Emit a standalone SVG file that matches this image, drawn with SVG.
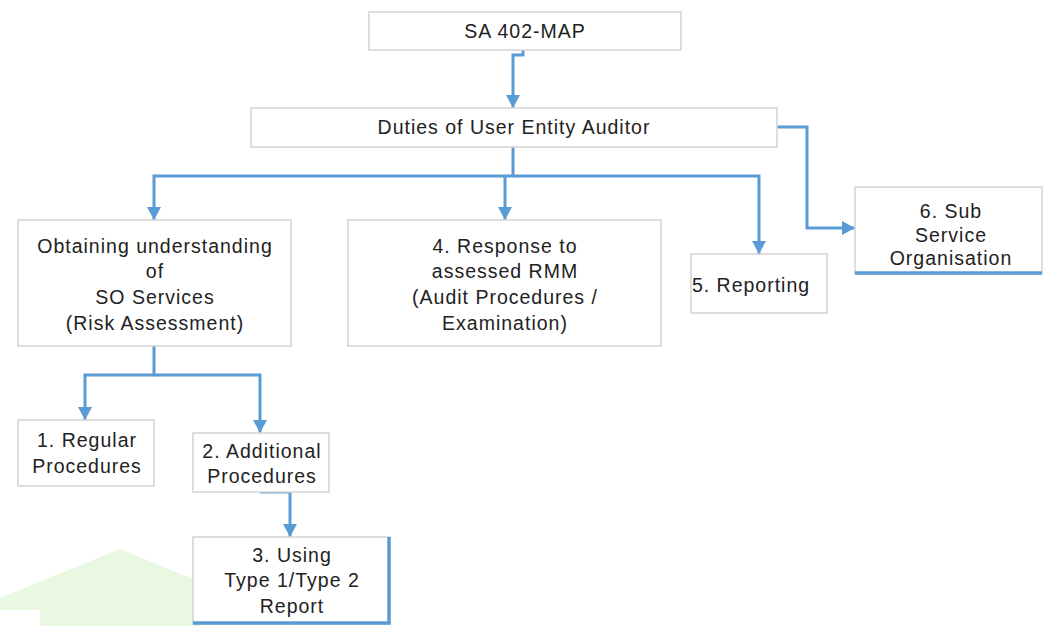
<svg xmlns="http://www.w3.org/2000/svg" width="1045" height="626" viewBox="0 0 1045 626">
  <style>
    .box { fill: #ffffff; stroke: #d3d3d3; stroke-width: 1.5; }
    .accent { stroke: #5b9bd5; stroke-width: 3.5; fill: none; }
    .lbl { font-family: "Liberation Sans", Arial, sans-serif; font-size: 19.5px; letter-spacing: 1px; fill: #222222; text-anchor: middle; }
    .conn { stroke: #5b9bd5; stroke-width: 3; fill: none; marker-end: url(#arrow); }
  </style>
  <defs>
    <marker id="arrow" markerUnits="userSpaceOnUse" markerWidth="14" markerHeight="14" viewBox="0 0 14 14" refX="13" refY="7" orient="auto">
      <path d="M0,0 L13,7 L0,14 Z" fill="#5b9bd5"/>
    </marker>
  </defs>
  <rect width="1045" height="626" fill="#ffffff"/>

  <!-- pale background mark, lower left -->
  <g id="backdrop">
    <polygon points="0,598 120,549 200,582 200,626 0,626" fill="#e8f8e1"/>
    <rect x="0" y="610" width="40" height="16" fill="#ffffff"/>
  </g>

  <g id="connectors">
    <path class="conn" d="M523,50 V55 H513 V108"/>
    <path class="conn" d="M513,147 V176 H154 V220"/>
    <path class="conn" d="M513,176 H759 V254"/>
    <path class="conn" d="M505,176 V220"/>
    <path class="conn" d="M777,127 H807 V228 H855"/>
    <path class="conn" d="M154,346 V375 H85 V420"/>
    <path class="conn" d="M154,375 H260 V433"/>
    <path class="conn" d="M260,492 H290 V537"/>
  </g>

  <g id="sa402">
    <rect class="box" x="369" y="12" width="312" height="38"/>
    <text class="lbl" x="525" y="38">SA 402-MAP</text>
  </g>

  <g id="duties">
    <rect class="box" x="251" y="108" width="526" height="39"/>
    <text class="lbl" x="514" y="134">Duties of User Entity Auditor</text>
  </g>

  <g id="obtaining">
    <rect class="box" x="18" y="220" width="273" height="126"/>
    <text class="lbl" x="155" y="253">Obtaining understanding</text>
    <text class="lbl" x="155" y="278">of</text>
    <text class="lbl" x="155" y="304">SO Services</text>
    <text class="lbl" x="155" y="330">(Risk Assessment)</text>
  </g>

  <g id="response">
    <rect class="box" x="348" y="220" width="313" height="126"/>
    <text class="lbl" x="505" y="253">4. Response to</text>
    <text class="lbl" x="505" y="278">assessed RMM</text>
    <text class="lbl" x="505" y="304">(Audit Procedures /</text>
    <text class="lbl" x="505" y="330">Examination)</text>
  </g>

  <g id="reporting">
    <rect class="box" x="691" y="254" width="136" height="59"/>
    <text class="lbl" x="751" y="292">5. Reporting</text>
  </g>

  <g id="subservice">
    <rect class="box" x="855" y="187" width="187" height="87"/>
    <line class="accent" x1="855" y1="273" x2="1042" y2="273"/>
    <text class="lbl" x="951" y="218">6. Sub</text>
    <text class="lbl" x="951" y="242">Service</text>
    <text class="lbl" x="951" y="265">Organisation</text>
  </g>

  <g id="regular">
    <rect class="box" x="18" y="420" width="136" height="66"/>
    <text class="lbl" x="87" y="447">1. Regular</text>
    <text class="lbl" x="87" y="473">Procedures</text>
  </g>

  <g id="additional">
    <rect class="box" x="193" y="433" width="136" height="59"/>
    <text class="lbl" x="262" y="458">2. Additional</text>
    <text class="lbl" x="262" y="483">Procedures</text>
  </g>

  <g id="using">
    <rect class="box" x="193" y="537" width="197" height="87"/>
    <path class="accent" d="M193,623 H389 V537"/>
    <text class="lbl" x="292" y="562">3. Using</text>
    <text class="lbl" x="292" y="587">Type 1/Type 2</text>
    <text class="lbl" x="292" y="613">Report</text>
  </g>
</svg>
